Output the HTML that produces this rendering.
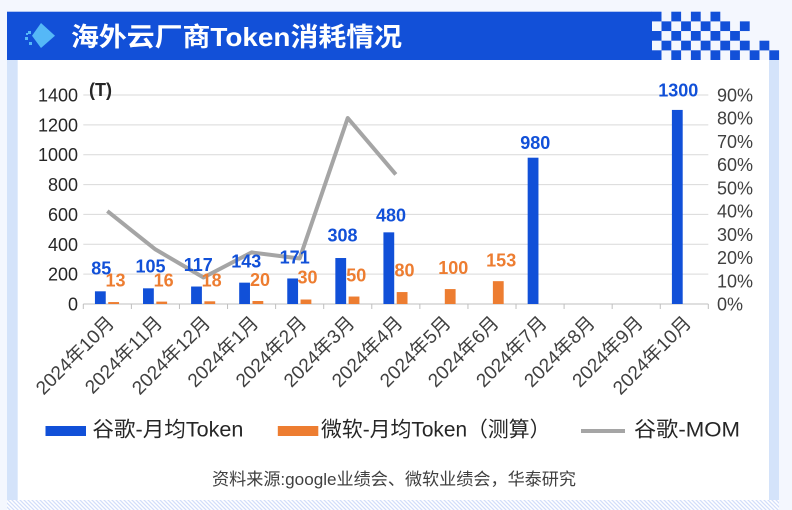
<!DOCTYPE html>
<html><head><meta charset="utf-8"><style>
html,body{margin:0;padding:0;background:#f4f7fe;}
svg{display:block;}
text{font-family:"Liberation Sans","Noto Sans CJK SC",sans-serif;}
</style></head><body>
<svg width="792" height="510" viewBox="0 0 792 510" xmlns="http://www.w3.org/2000/svg">
<defs>
<pattern id="st" patternUnits="userSpaceOnUse" width="4" height="4">
<rect width="4" height="4" fill="#ffffff"/>
<path d="M-1,-1 L5,5 M-1,3 L1,5 M3,-1 L5,1" stroke="#d3defa" stroke-width="1.3"/>
</pattern>
</defs>
<rect x="0" y="0" width="792" height="510" fill="#f4f7fe"/>
<!-- panel -->
<rect x="7" y="60" width="772" height="440" fill="#d4e3fa"/>
<rect x="17.7" y="60" width="751.3" height="440" fill="#ffffff"/>
<rect x="7" y="500" width="772" height="10" fill="url(#st)"/>
<!-- header -->
<rect x="7" y="11.7" width="645" height="48.3" fill="#1250d8"/>
<g fill="#1250d8">
<rect x="651.7" y="11.7" width="9.8" height="9.7"/><rect x="671.3" y="11.7" width="9.8" height="9.7"/><rect x="690.9" y="11.7" width="9.8" height="9.7"/><rect x="710.5" y="11.7" width="9.8" height="9.7"/>
<rect x="661.5" y="21.36" width="9.8" height="9.7"/><rect x="681.1" y="21.36" width="9.8" height="9.7"/><rect x="700.7" y="21.36" width="9.8" height="9.7"/><rect x="720.3" y="21.36" width="9.8" height="9.7"/><rect x="739.9" y="21.36" width="9.8" height="9.7"/>
<rect x="651.7" y="31.0" width="9.8" height="9.7"/><rect x="671.3" y="31.0" width="9.8" height="9.7"/><rect x="690.9" y="31.0" width="9.8" height="9.7"/><rect x="710.5" y="31.0" width="9.8" height="9.7"/><rect x="730.1" y="31.0" width="9.8" height="9.7"/>
<rect x="661.5" y="40.7" width="9.8" height="9.7"/><rect x="681.1" y="40.7" width="9.8" height="9.7"/><rect x="700.7" y="40.7" width="9.8" height="9.7"/><rect x="720.3" y="40.7" width="9.8" height="9.7"/><rect x="739.9" y="40.7" width="9.8" height="9.7"/><rect x="759.5" y="40.7" width="9.8" height="9.7"/>
<rect x="651.7" y="50.3" width="9.8" height="9.7"/><rect x="671.3" y="50.3" width="9.8" height="9.7"/><rect x="690.9" y="50.3" width="9.8" height="9.7"/><rect x="710.5" y="50.3" width="9.8" height="9.7"/><rect x="730.1" y="50.3" width="9.8" height="9.7"/><rect x="749.7" y="50.3" width="9.8" height="9.7"/><rect x="769.3" y="50.3" width="9.8" height="9.7"/>
</g>
<!-- icon -->
<g fill="#55b8f7">
<polygon points="41,23 55,35.7 41,48 32,35.7"/>
<rect x="25" y="37" width="3" height="3"/><rect x="28" y="31" width="3" height="3"/><rect x="29" y="42" width="3" height="3"/><rect x="26" y="33" width="2" height="2"/>
</g>
<text x="71" y="46" font-size="26" font-weight="bold" fill="#ffffff" textLength="331" lengthAdjust="spacingAndGlyphs">海外云厂商Token消耗情况</text>

<!-- gridlines -->
<g stroke="#d9d9d9" stroke-width="1">
<line x1="83.3" x2="708.3" y1="274.14" y2="274.14"/>
<line x1="83.3" x2="708.3" y1="244.29" y2="244.29"/>
<line x1="83.3" x2="708.3" y1="214.43" y2="214.43"/>
<line x1="83.3" x2="708.3" y1="184.57" y2="184.57"/>
<line x1="83.3" x2="708.3" y1="154.71" y2="154.71"/>
<line x1="83.3" x2="708.3" y1="124.86" y2="124.86"/>
<line x1="83.3" x2="708.3" y1="95" y2="95"/>
</g>
<g stroke="#bfbfbf" stroke-width="1">
<line x1="83.3" x2="708.3" y1="304" y2="304"/>
<line x1="83.3" x2="83.3" y1="304" y2="309"/>
<line x1="131.38" x2="131.38" y1="304" y2="309"/>
<line x1="179.46" x2="179.46" y1="304" y2="309"/>
<line x1="227.54" x2="227.54" y1="304" y2="309"/>
<line x1="275.62" x2="275.62" y1="304" y2="309"/>
<line x1="323.7" x2="323.7" y1="304" y2="309"/>
<line x1="371.78" x2="371.78" y1="304" y2="309"/>
<line x1="419.86" x2="419.86" y1="304" y2="309"/>
<line x1="467.94" x2="467.94" y1="304" y2="309"/>
<line x1="516.02" x2="516.02" y1="304" y2="309"/>
<line x1="564.1" x2="564.1" y1="304" y2="309"/>
<line x1="612.18" x2="612.18" y1="304" y2="309"/>
<line x1="660.26" x2="660.26" y1="304" y2="309"/>
<line x1="708.3" x2="708.3" y1="304" y2="309"/>
</g>

<!-- left axis labels -->
<g font-size="18" fill="#262626" text-anchor="end">
<text x="78" y="310.5">0</text>
<text x="78" y="280.6">200</text>
<text x="78" y="250.8">400</text>
<text x="78" y="220.9">600</text>
<text x="78" y="191.1">800</text>
<text x="78" y="161.2">1000</text>
<text x="78" y="131.4">1200</text>
<text x="78" y="101.5">1400</text>
</g>
<text x="89" y="96" font-size="18" font-weight="bold" fill="#262626">(T)</text>
<!-- right axis labels -->
<g font-size="18" fill="#404040">
<text x="717" y="310.5">0%</text>
<text x="717" y="287.3">10%</text>
<text x="717" y="264.1">20%</text>
<text x="717" y="240.8">30%</text>
<text x="717" y="217.6">40%</text>
<text x="717" y="194.4">50%</text>
<text x="717" y="171.2">60%</text>
<text x="717" y="147.9">70%</text>
<text x="717" y="124.7">80%</text>
<text x="717" y="101.5">90%</text>
</g>

<!-- bars -->
<g fill="#1150d8">
<rect x="94.94" y="291.31" width="10.8" height="12.69"/>
<rect x="143.02" y="288.32" width="10.8" height="15.68"/>
<rect x="191.10" y="286.53" width="10.8" height="17.47"/>
<rect x="239.18" y="282.65" width="10.8" height="21.35"/>
<rect x="287.26" y="278.47" width="10.8" height="25.53"/>
<rect x="335.34" y="258.02" width="10.8" height="45.98"/>
<rect x="383.42" y="232.34" width="10.8" height="71.66"/>
<rect x="527.66" y="157.70" width="10.8" height="146.30"/>
<rect x="671.90" y="109.92" width="10.8" height="194.08"/>
</g>
<g fill="#ed7d31">
<rect x="108.24" y="302.06" width="10.8" height="1.94"/>
<rect x="156.32" y="301.61" width="10.8" height="2.39"/>
<rect x="204.40" y="301.31" width="10.8" height="2.69"/>
<rect x="252.48" y="301.01" width="10.8" height="2.99"/>
<rect x="300.56" y="299.52" width="10.8" height="4.48"/>
<rect x="348.64" y="296.54" width="10.8" height="7.46"/>
<rect x="396.72" y="292.06" width="10.8" height="11.94"/>
<rect x="444.80" y="289.07" width="10.8" height="14.93"/>
<rect x="492.88" y="281.16" width="10.8" height="22.84"/>
</g>

<!-- line -->
<polyline points="107.34,211.1 155.42,249.4 203.5,277.5 251.58,252.4 299.66,258.5 347.74,118.0 395.82,174.4" fill="none" stroke="#a5a5a5" stroke-width="4" stroke-linejoin="round"/>

<!-- data labels -->
<g font-size="18" font-weight="bold" fill="#1150d8" text-anchor="middle">
<text x="101.3" y="274.3">85</text>
<text x="150.5" y="272.7">105</text>
<text x="198.3" y="271">117</text>
<text x="246.3" y="267.3">143</text>
<text x="294.7" y="263.3">171</text>
<text x="342.5" y="241.7">308</text>
<text x="391" y="221.7">480</text>
<text x="535.3" y="149">980</text>
<text x="678.3" y="96.7">1300</text>
</g>
<g font-size="18" font-weight="bold" fill="#ed7d31" text-anchor="middle">
<text x="115.5" y="286.7">13</text>
<text x="163.7" y="286.7">16</text>
<text x="211.7" y="286.7">18</text>
<text x="260" y="286">20</text>
<text x="307.5" y="283.3">30</text>
<text x="356.3" y="281.7">50</text>
<text x="404.5" y="276.7">80</text>
<text x="453.3" y="274">100</text>
<text x="501.2" y="266.7">153</text>
</g>

<!-- x labels -->
<g font-size="19" fill="#404040" text-anchor="end">
<text transform="translate(115.3,324) rotate(-45)">2024年10月</text>
<text transform="translate(163.4,324) rotate(-45)">2024年11月</text>
<text transform="translate(211.5,324) rotate(-45)">2024年12月</text>
<text transform="translate(259.6,324) rotate(-45)">2024年1月</text>
<text transform="translate(307.7,324) rotate(-45)">2024年2月</text>
<text transform="translate(355.7,324) rotate(-45)">2024年3月</text>
<text transform="translate(403.8,324) rotate(-45)">2024年4月</text>
<text transform="translate(451.9,324) rotate(-45)">2024年5月</text>
<text transform="translate(500,324) rotate(-45)">2024年6月</text>
<text transform="translate(548.1,324) rotate(-45)">2024年7月</text>
<text transform="translate(596.1,324) rotate(-45)">2024年8月</text>
<text transform="translate(644.2,324) rotate(-45)">2024年9月</text>
<text transform="translate(692.3,324) rotate(-45)">2024年10月</text>
</g>

<!-- legend -->
<rect x="45.5" y="426" width="40.5" height="10" fill="#1150d8"/>
<text x="92.4" y="436.5" font-size="21" fill="#262626" textLength="151" lengthAdjust="spacingAndGlyphs">谷歌-月均Token</text>
<rect x="277.8" y="426" width="40.5" height="10" fill="#ed7d31"/>
<text x="321" y="436.5" font-size="21" fill="#262626" textLength="229.5" lengthAdjust="spacingAndGlyphs">微软-月均Token（测算）</text>
<line x1="581" x2="625" y1="431" y2="431" stroke="#a5a5a5" stroke-width="4"/>
<text x="634" y="436.5" font-size="21" fill="#262626" textLength="106" lengthAdjust="spacingAndGlyphs">谷歌-MOM</text>

<!-- source -->
<text x="212" y="485" font-size="17" fill="#404040" textLength="364" lengthAdjust="spacingAndGlyphs">资料来源:google业绩会、微软业绩会，华泰研究</text>
</svg>
</body></html>
